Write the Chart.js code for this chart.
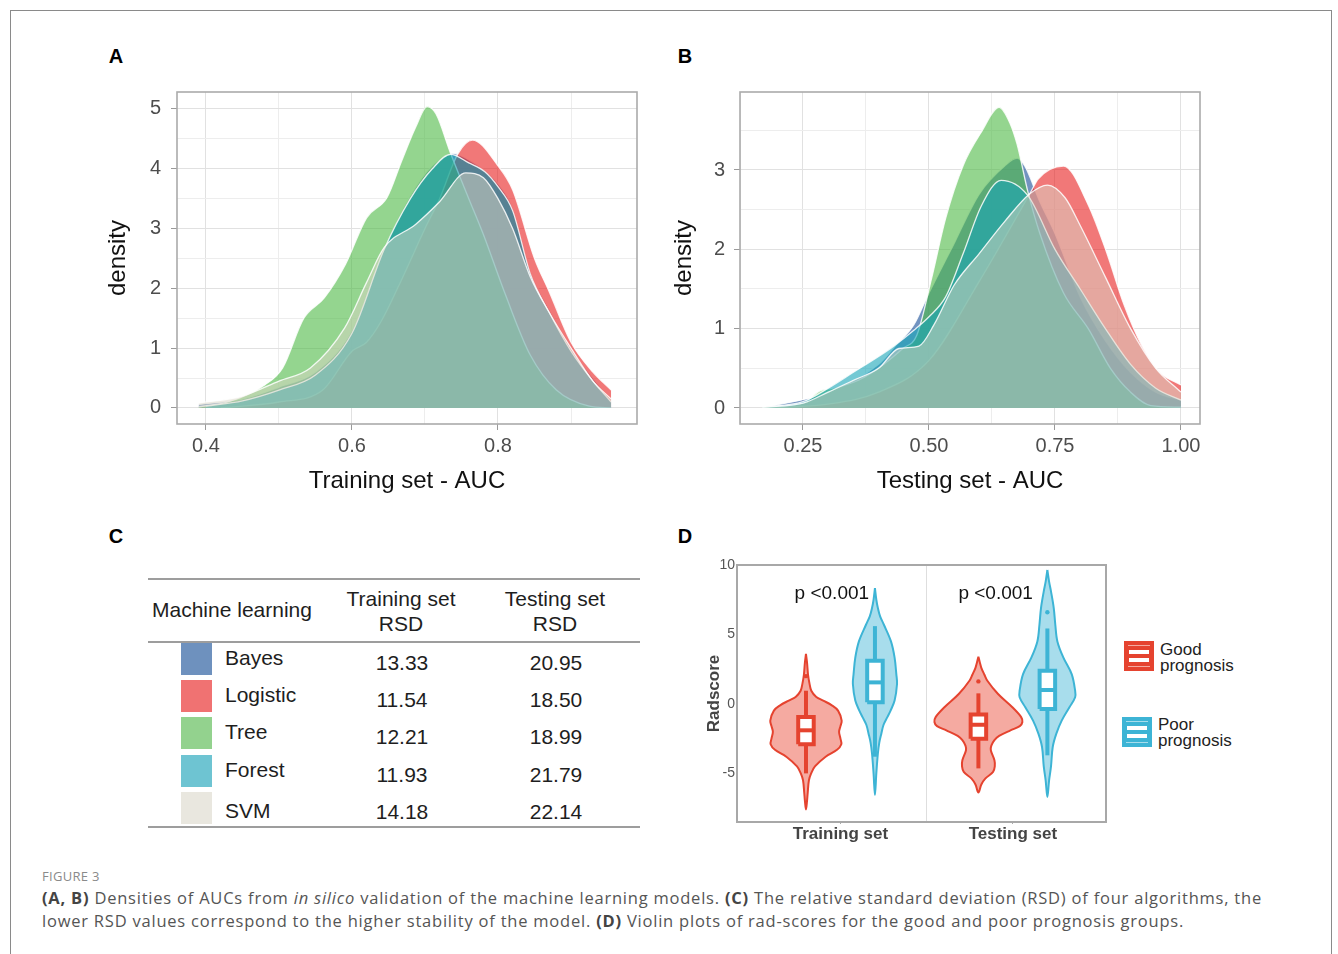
<!DOCTYPE html>
<html>
<head>
<meta charset="utf-8">
<title>Figure 3</title>
<script src="https://cdn.jsdelivr.net/npm/chart.js@4.4.1/dist/chart.umd.min.js"></script>
<style>
  html, body { margin:0; padding:0; background:#ffffff; }
  body { position:relative; width:1338px; height:954px; overflow:hidden; font-family:"Liberation Sans", Arial, sans-serif; color:#222; }
  .frame { position:absolute; left:10px; top:10px; width:1322px; height:1000px; border:1.5px solid #8a8a8a; box-sizing:border-box; }
  .plabel { position:absolute; font-weight:bold; font-size:20px; color:#000; transform:translate(-50%,-50%); line-height:1; }
  canvas { position:absolute; }
  .rule { position:absolute; left:148px; width:492px; height:2px; background:#9d9d9d; }
  .t { position:absolute; font-size:21px; color:#1e1e1e; white-space:nowrap; line-height:1; }
  .tc { transform:translate(-50%,-50%); }
  .tl { transform:translateY(-50%); }
  .sw { position:absolute; width:31px; height:32px; }
  .icon { position:absolute; width:30px; height:30px; }
  .icon .bar { position:absolute; left:5px; width:20px; height:4px; background:#fff; }
  .icon .thin { position:absolute; left:4px; width:22px; height:1px; background:rgba(255,255,255,0.55); }
  .legtext { position:absolute; font-size:17px; color:#222; line-height:16px; white-space:nowrap; }
  .figlabel { position:absolute; left:42px; top:867px; font-family:"Open Sans", Lato, sans-serif; font-size:13px; letter-spacing:0.3px; color:#8a8a8a; }
  .capline { position:absolute; left:42px; font-family:"Open Sans", Lato, sans-serif; font-size:16.5px; line-height:23px; color:#555; white-space:nowrap; }
  .capline b { color:#444; }
</style>
</head>
<body>
<div class="frame"></div>
<div class="plabel" style="left:116px;top:56px;">A</div>
<div class="plabel" style="left:685px;top:56px;">B</div>
<div class="plabel" style="left:116px;top:536px;">C</div>
<div class="plabel" style="left:685px;top:536px;">D</div>

<canvas id="chartA" width="550" height="420" style="left:100px;top:80px;"></canvas>
<canvas id="chartB" width="560" height="420" style="left:660px;top:80px;"></canvas>
<canvas id="chartD" width="420" height="305" style="left:690px;top:545px;"></canvas>

<div id="tableC"></div>
<div id="legendD"></div>

<div class="figlabel">FIGURE 3</div>
<div class="capline" id="cap1" style="top:886px"><b>(A, B)</b> Densities of AUCs from <i>in silico</i> validation of the machine learning models. <b>(C)</b> The relative standard deviation (RSD) of four algorithms, the</div>
<div class="capline" id="cap2" style="top:909px">lower RSD values correspond to the higher stability of the model. <b>(D)</b> Violin plots of rad-scores for the good and poor prognosis groups.</div>

<script>
// ================= DATA =================
const modelNames = ['Bayes', 'Logistic', 'Tree', 'Forest', 'SVM'];
const trainingRSD = ['13.33', '11.54', '12.21', '11.93', '14.18'];
const testingRSD  = ['20.95', '18.50', '18.99', '21.79', '22.14'];

// Panel A: density of training-set AUC
const aBayesX    = [0.39, 0.45, 0.5, 0.55, 0.6, 0.644, 0.68, 0.71, 0.738, 0.76, 0.782, 0.8, 0.82, 0.844, 0.87, 0.9, 0.93, 0.955];
const aBayesY    = [0.06, 0.15, 0.35, 0.6, 1.3, 2.68, 3.55, 4.05, 4.26, 4.15, 3.97, 3.75, 3.35, 2.3, 1.65, 1.0, 0.5, 0.12];
const aLogisticX = [0.42, 0.5, 0.56, 0.6, 0.62, 0.64, 0.67, 0.7, 0.72, 0.745, 0.765, 0.8, 0.82, 0.85, 0.87, 0.9, 0.93, 0.955];
const aLogisticY = [0.0, 0.1, 0.3, 0.95, 1.1, 1.45, 2.2, 3.0, 3.5, 4.25, 4.48, 4.05, 3.65, 2.5, 1.95, 1.1, 0.6, 0.3];
const aTreeX     = [0.39, 0.43, 0.481, 0.505, 0.534, 0.562, 0.591, 0.62, 0.648, 0.668, 0.687, 0.703, 0.715, 0.735, 0.76, 0.78, 0.81, 0.844, 0.88, 0.925, 0.955];
const aTreeY     = [0.02, 0.1, 0.39, 0.67, 1.5, 1.84, 2.4, 3.18, 3.52, 4.13, 4.69, 5.04, 4.92, 4.26, 3.5, 2.9, 1.9, 0.89, 0.3, 0.03, 0.0];
const aForestX   = [0.4, 0.45, 0.5, 0.55, 0.6, 0.644, 0.68, 0.71, 0.735, 0.76, 0.782, 0.8, 0.82, 0.844, 0.87, 0.9, 0.93, 0.955];
const aForestY   = [0.03, 0.12, 0.3, 0.55, 1.25, 2.65, 3.5, 4.0, 4.24, 4.1, 3.95, 3.7, 3.3, 2.25, 1.6, 0.95, 0.45, 0.1];
const aSvmX      = [0.39, 0.45, 0.5, 0.543, 0.59, 0.62, 0.644, 0.687, 0.72, 0.756, 0.78, 0.8, 0.82, 0.844, 0.87, 0.9, 0.93, 0.955];
const aSvmY      = [0.08, 0.2, 0.45, 0.67, 1.34, 2.1, 2.68, 3.07, 3.45, 3.93, 3.85, 3.5, 3.0, 2.2, 1.6, 1.0, 0.45, 0.15];
const aMajorX = [0.4, 0.6, 0.8];
const aMinorX = [0.5, 0.7, 0.9];
const aMajorY = [0, 1, 2, 3, 4, 5];
const aMinorY = [0.5, 1.5, 2.5, 3.5, 4.5];

// Panel B: density of testing-set AUC
const bBayesX    = [0.17, 0.3, 0.4, 0.434, 0.47, 0.5, 0.544, 0.6, 0.65, 0.675, 0.69, 0.72, 0.75, 0.8, 0.85, 0.9, 0.95, 1.0];
const bBayesY    = [0.0, 0.2, 0.55, 0.79, 1.05, 1.45, 2.0, 2.7, 3.05, 3.15, 3.05, 2.6, 2.2, 1.4, 0.85, 0.45, 0.2, 0.1];
const bLogisticX = [0.17, 0.3, 0.4, 0.5, 0.6, 0.7, 0.717, 0.767, 0.816, 0.852, 0.887, 0.922, 0.958, 1.0];
const bLogisticY = [0.0, 0.05, 0.2, 0.6, 1.6, 2.7, 2.89, 3.05, 2.56, 1.97, 1.3, 0.79, 0.45, 0.29];
const bTreeX     = [0.17, 0.25, 0.285, 0.31, 0.36, 0.41, 0.448, 0.476, 0.505, 0.533, 0.568, 0.604, 0.639, 0.66, 0.675, 0.696, 0.72, 0.767, 0.816, 0.86, 0.9, 0.94, 1.0];
const bTreeY     = [0.01, 0.06, 0.22, 0.25, 0.35, 0.55, 0.75, 0.92, 1.63, 2.39, 3.06, 3.48, 3.79, 3.6, 3.32, 2.73, 2.2, 1.45, 1.0, 0.5, 0.2, 0.03, 0.01];
const bForestX   = [0.17, 0.25, 0.3, 0.35, 0.4, 0.43, 0.47, 0.5, 0.533, 0.568, 0.604, 0.643, 0.696, 0.75, 0.8, 0.85, 0.9, 0.95, 1.0];
const bForestY   = [0.01, 0.08, 0.25, 0.45, 0.65, 0.78, 0.98, 1.15, 1.4, 1.95, 2.55, 2.87, 2.68, 2.0, 1.5, 1.0, 0.55, 0.25, 0.1];
const bSvmX      = [0.17, 0.25, 0.3, 0.35, 0.4, 0.44, 0.48, 0.51, 0.55, 0.6, 0.65, 0.7, 0.735, 0.77, 0.8, 0.85, 0.9, 0.95, 1.0];
const bSvmY      = [0.01, 0.06, 0.2, 0.35, 0.5, 0.75, 0.78, 1.05, 1.55, 1.95, 2.35, 2.7, 2.81, 2.65, 2.3, 1.65, 1.0, 0.5, 0.2];
const bMajorX = [0.25, 0.5, 0.75, 1.0];
const bMinorX = [0.125, 0.375, 0.625, 0.875];
const bMajorY = [0, 1, 2, 3];
const bMinorY = [0.5, 1.5, 2.5, 3.5];

// Panel D: rad-score violins
const dCategories = ['Training set', 'Testing set'];
const dGroups = ['Good prognosis', 'Poor prognosis'];
const pLabels = ['p <0.001', 'p <0.001'];
const dYTicks = [-5, 0, 5, 10];
// violin outlines: radscore values and half-widths (in category units)
const vTrainGoodY = [3.6, 3.0, 2.1, 1.5, 0.95, 0.5, 0.24, -0.1, -0.48, -1.2, -1.6, -2.0, -2.5, -2.9, -3.3, -3.8, -4.5, -5.0, -5.5, -6.4, -7.0, -7.6];
const vTrainGoodW = [0, 0.006, 0.012, 0.02, 0.031, 0.06, 0.10, 0.15, 0.186, 0.207, 0.20, 0.192, 0.2, 0.205, 0.18, 0.114, 0.052, 0.03, 0.017, 0.01, 0.006, 0];
const vTrainPoorY = [8.33, 7.5, 6.9, 6.3, 5.7, 4.5, 3.33, 2.14, 1.43, 0.24, -0.5, -0.95, -1.5, -2.14, -2.8, -3.57, -5.0, -6.55];
const vTrainPoorW = [0, 0.008, 0.017, 0.03, 0.052, 0.093, 0.114, 0.124, 0.128, 0.114, 0.09, 0.072, 0.05, 0.037, 0.025, 0.017, 0.008, 0];
const vTestGoodY  = [3.4, 3.0, 2.6, 2.1, 1.67, 0.71, -0.24, -0.95, -1.3, -1.6, -1.9, -2.3, -2.6, -3.0, -3.33, -4.05, -4.5, -4.9, -5.36, -5.8, -6.38];
const vTestGoodW  = [0, 0.008, 0.017, 0.035, 0.052, 0.114, 0.197, 0.248, 0.255, 0.24, 0.186, 0.12, 0.093, 0.075, 0.072, 0.093, 0.095, 0.085, 0.041, 0.017, 0];
const vTestPoorY  = [9.64, 8.8, 8.1, 6.9, 5.7, 4.5, 3.33, 2.14, 0.95, 0.48, -0.24, -1.2, -2.14, -3.1, -4.5, -5.5, -6.7];
const vTestPoorW  = [0, 0.01, 0.021, 0.037, 0.046, 0.058, 0.093, 0.141, 0.161, 0.161, 0.128, 0.083, 0.052, 0.031, 0.021, 0.01, 0];
// box summaries: [lower whisker, Q1, median, Q3, upper whisker]
const boxTrainGood = [-5.0, -2.9, -1.9, -0.95, 0.95];
const boxTrainPoor = [-3.8, 0.12, 1.55, 3.1, 5.6];
const boxTestGood  = [-4.64, -2.5, -1.5, -0.76, 0.76];
const boxTestPoor  = [-3.7, -0.36, 1.0, 2.38, 5.43];
const outTrainGood = [2.0];
const outTrainPoor = [];
const outTestGood  = [1.62];
const outTestPoor  = [6.6];

// ================= STYLE =================
const FONT = '"Liberation Sans", Arial, sans-serif';
Chart.defaults.font.family = FONT;
Chart.defaults.animation = false;

const modelFill = ['rgba(20,75,150,0.6)', 'rgba(232,30,30,0.6)', 'rgba(76,185,68,0.6)', 'rgba(23,165,184,0.6)', 'rgba(217,213,198,0.5)'];
const modelSwatch = ['#6E91BE', '#F07272', '#93D28E', '#6EC4D2', '#E9E7DF'];
const groupStroke = ['#E5432F', '#3DB4D5'];
const groupFill = ['rgba(232,67,46,0.45)', 'rgba(61,180,213,0.45)'];

const panelBorder = {
  id: 'panelBorder',
  afterDraw(chart, args, opts) {
    const {ctx, chartArea: a} = chart;
    ctx.save();
    ctx.strokeStyle = opts.color || '#aaa';
    ctx.lineWidth = opts.width || 1.5;
    ctx.strokeRect(a.left, a.top, a.right - a.left, a.bottom - a.top);
    ctx.restore();
  }
};

function makeDensity(id, series, opt) {
  const datasets = series.map((s, i) => ({
    label: modelNames[i],
    data: s.x.map((x, j) => ({x: x, y: s.y[j]})),
    backgroundColor: modelFill[i],
    borderColor: 'rgba(255,255,255,0.85)',
    borderWidth: 1.3,
    fill: 'origin',
    pointRadius: 0,
    cubicInterpolationMode: 'monotone',
    order: series.length - i
  }));
  const allX = opt.majorX.concat(opt.minorX).sort((a, b) => a - b);
  const allY = opt.majorY.concat(opt.minorY).sort((a, b) => a - b);
  const isMajX = c => c.tick && opt.majorX.includes(c.tick.value);
  const isMajY = c => c.tick && opt.majorY.includes(c.tick.value);
  return new Chart(document.getElementById(id), {
    type: 'line',
    data: {datasets},
    options: {
      responsive: false, animation: false, events: [],
      layout: {padding: opt.pad},
      plugins: {legend: {display: false}, tooltip: {enabled: false}, panelBorder: {color: '#ababab', width: 1.6}},
      scales: {
        x: {
          type: 'linear', min: opt.xMin, max: opt.xMax,
          afterBuildTicks: s => { s.ticks = allX.map(v => ({value: v})); },
          afterFit: s => { s.height = opt.xAxisH; s.paddingLeft = 0; s.paddingRight = 0; },
          ticks: {autoSkip: false, maxRotation: 0, padding: 4, color: '#4d4d4d', font: {size: 20},
                  callback: v => opt.majorX.includes(v) ? opt.fmtX(v) : ''},
          grid: {color: c => isMajX(c) ? '#e1e1e1' : '#ededed', lineWidth: 1, tickLength: 6,
                 tickColor: c => isMajX(c) ? '#9a9a9a' : 'rgba(0,0,0,0)'},
          border: {display: false},
          title: {display: true, text: opt.xTitle, color: '#111', font: {size: 24}, padding: {top: 0, bottom: 4}}
        },
        y: {
          type: 'linear', min: opt.yMin, max: opt.yMax,
          afterBuildTicks: s => { s.ticks = allY.map(v => ({value: v})); },
          afterFit: s => { s.width = opt.yAxisW; s.paddingTop = 0; s.paddingBottom = 0; },
          ticks: {autoSkip: false, padding: opt.yTickPad, color: '#4d4d4d', font: {size: 20},
                  callback: v => opt.majorY.includes(v) ? String(v) : ''},
          grid: {color: c => isMajY(c) ? '#e1e1e1' : '#ededed', lineWidth: 1, tickLength: 6,
                 tickColor: c => isMajY(c) ? '#9a9a9a' : 'rgba(0,0,0,0)'},
          border: {display: false},
          title: {display: true, text: 'density', color: '#111', font: {size: 24}, padding: {top: opt.yTitlePad, bottom: 0}}
        }
      }
    },
    plugins: [panelBorder]
  });
}

makeDensity('chartA', [
  {x: aBayesX, y: aBayesY}, {x: aLogisticX, y: aLogisticY}, {x: aTreeX, y: aTreeY},
  {x: aForestX, y: aForestY}, {x: aSvmX, y: aSvmY}
], {
  xMin: 0.3603, xMax: 0.9904, yMin: -0.268, yMax: 5.284,
  majorX: aMajorX, minorX: aMinorX, majorY: aMajorY, minorY: aMinorY,
  fmtX: v => v.toFixed(1), xTitle: 'Training set - AUC',
  pad: {top: 12, right: 13, left: 0, bottom: 0}, xAxisH: 76, yAxisW: 77, yTickPad: 10, yTitlePad: 4
});

makeDensity('chartB', [
  {x: bBayesX, y: bBayesY}, {x: bLogisticX, y: bLogisticY}, {x: bTreeX, y: bTreeY},
  {x: bForestX, y: bForestY}, {x: bSvmX, y: bSvmY}
], {
  xMin: 0.125, xMax: 1.0377, yMin: -0.2017, yMax: 3.983,
  majorX: bMajorX, minorX: bMinorX, majorY: bMajorY, minorY: bMinorY,
  fmtX: v => v.toFixed(2), xTitle: 'Testing set - AUC',
  pad: {top: 12, right: 20, left: 0, bottom: 0}, xAxisH: 76, yAxisW: 80, yTickPad: 9, yTitlePad: 10
});

// ---------- Panel D ----------
const violins = [
  {cat: 0, grp: 0, ys: vTrainGoodY, ws: vTrainGoodW, box: boxTrainGood, out: outTrainGood},
  {cat: 0, grp: 1, ys: vTrainPoorY, ws: vTrainPoorW, box: boxTrainPoor, out: outTrainPoor},
  {cat: 1, grp: 0, ys: vTestGoodY,  ws: vTestGoodW,  box: boxTestGood,  out: outTestGood},
  {cat: 1, grp: 1, ys: vTestPoorY,  ws: vTestPoorW,  box: boxTestPoor,  out: outTestPoor}
];
const dodge = 0.2, boxHalf = 0.045;
const dDatasets = [];
violins.forEach(v => {
  const c = v.cat + 1 + (v.grp === 0 ? -dodge : dodge);
  const col = groupStroke[v.grp];
  const right = v.ys.map((y, i) => ({x: c + v.ws[i], y: y}));
  const left = v.ys.map((y, i) => ({x: c - v.ws[i], y: y})).reverse().slice(1);
  dDatasets.push({
    label: dCategories[v.cat] + ' ' + dGroups[v.grp],
    data: right.concat(left), fill: 'shape', backgroundColor: groupFill[v.grp],
    borderColor: col, borderWidth: 2, tension: 0.35, pointRadius: 0, order: 4
  });
  const [lo, q1, md, q3, hi] = v.box;
  dDatasets.push({
    data: [{x: c - boxHalf, y: q1}, {x: c + boxHalf, y: q1}, {x: c + boxHalf, y: q3}, {x: c - boxHalf, y: q3}, {x: c - boxHalf, y: q1}],
    fill: 'shape', backgroundColor: '#ffffff', borderColor: col, borderWidth: 4,
    borderJoinStyle: 'miter', tension: 0, pointRadius: 0, order: 2
  });
  dDatasets.push({data: [{x: c, y: q3}, {x: c, y: hi}], borderColor: col, borderWidth: 4, pointRadius: 0, fill: false, order: 3});
  dDatasets.push({data: [{x: c, y: lo}, {x: c, y: q1}], borderColor: col, borderWidth: 4, pointRadius: 0, fill: false, order: 3});
  dDatasets.push({data: [{x: c - boxHalf, y: md}, {x: c + boxHalf, y: md}], borderColor: col, borderWidth: 4, pointRadius: 0, fill: false, order: 1});
  if (v.out.length) {
    dDatasets.push({data: v.out.map(y => ({x: c, y: y})), showLine: false, pointRadius: 2.2,
      pointBackgroundColor: col, pointBorderWidth: 0, fill: false, order: 0});
  }
});

// annotation placement for the p-value labels (x offset from category centre, radscore height)
const pLabelShift = [-0.05, -0.1];
const pLabelY = 7.9;
const pLabelPlugin = {
  id: 'pLabels',
  afterDatasetsDraw(chart) {
    const {ctx, scales: {x, y}} = chart;
    ctx.save();
    ctx.font = '19px ' + FONT;
    ctx.fillStyle = '#111';
    ctx.textAlign = 'center';
    ctx.textBaseline = 'middle';
    pLabels.forEach((t, i) => ctx.fillText(t, x.getPixelForValue(i + 1 + pLabelShift[i]), y.getPixelForValue(pLabelY)));
    ctx.restore();
  }
};

const dXTicks = [1, 1.5, 2];
new Chart(document.getElementById('chartD'), {
  type: 'line',
  data: {datasets: dDatasets},
  options: {
    responsive: false, animation: false, events: [],
    layout: {padding: {top: 20, right: 4, left: 0, bottom: 0}},
    plugins: {legend: {display: false}, tooltip: {enabled: false}, panelBorder: {color: '#a8a8a8', width: 2}},
    scales: {
      x: {
        type: 'linear', min: 0.4, max: 2.54,
        afterBuildTicks: s => { s.ticks = dXTicks.map(v => ({value: v})); },
        afterFit: s => { s.height = 28; s.paddingLeft = 0; s.paddingRight = 0; },
        ticks: {autoSkip: false, maxRotation: 0, padding: 0, color: '#444', font: {size: 17, weight: 'bold'},
                callback: v => Number.isInteger(v) ? dCategories[v - 1] : ''},
        grid: {color: c => (c.tick && !Number.isInteger(c.tick.value)) ? '#dedede' : 'rgba(0,0,0,0)', lineWidth: 1,
               tickLength: 2, tickColor: c => (c.tick && Number.isInteger(c.tick.value)) ? '#aaa' : 'rgba(0,0,0,0)'},
        border: {display: false}
      },
      y: {
        type: 'linear', min: -8.5, max: 10,
        afterBuildTicks: s => { s.ticks = dYTicks.map(v => ({value: v})); },
        afterFit: s => { s.width = 47; s.paddingTop = 0; s.paddingBottom = 0; },
        ticks: {autoSkip: false, padding: 2, color: '#555', font: {size: 14}},
        grid: {display: true, drawOnChartArea: false, drawTicks: false},
        border: {display: false},
        title: {display: true, text: 'Radscore', color: '#444', font: {size: 17, weight: 'bold'}, padding: {top: 14, bottom: 0}}
      }
    }
  },
  plugins: [panelBorder, pLabelPlugin]
});

// ---------- Panel C table ----------
(function buildTable() {
  const root = document.getElementById('tableC');
  let h = '';
  h += '<div class="rule" style="top:578px"></div><div class="rule" style="top:641px"></div><div class="rule" style="top:826px"></div>';
  h += '<div class="t tl" style="left:152px;top:609px">Machine learning</div>';
  h += '<div class="t tc" style="left:401px;top:598px">Training set</div><div class="t tc" style="left:401px;top:623px">RSD</div>';
  h += '<div class="t tc" style="left:555px;top:598px">Testing set</div><div class="t tc" style="left:555px;top:623px">RSD</div>';
  modelNames.forEach((m, i) => {
    const rowTop = 643 + i * 37.2;
    h += '<div class="sw" style="left:181px;top:' + rowTop + 'px;background:' + modelSwatch[i] + '"></div>';
    h += '<div class="t tl" style="left:225px;top:' + (rowTop + 14 + (i === 4 ? 4 : 0)) + 'px">' + m + '</div>';
    h += '<div class="t tc" style="left:402px;top:' + (rowTop + 19) + 'px">' + trainingRSD[i] + '</div>';
    h += '<div class="t tc" style="left:556px;top:' + (rowTop + 19) + 'px">' + testingRSD[i] + '</div>';
  });
  root.innerHTML = h;
})();

// ---------- Panel D legend ----------
(function buildLegend() {
  const root = document.getElementById('legendD');
  const pos = [{ix: 1124, iy: 641, tx: 1160, ty: 642}, {ix: 1122, iy: 717, tx: 1158, ty: 717}];
  let h = '';
  dGroups.forEach((g, i) => {
    const p = pos[i];
    const words = g.split(' ');
    h += '<div class="icon" style="left:' + p.ix + 'px;top:' + p.iy + 'px;background:' + groupStroke[i] + '">' +
         '<div class="thin" style="top:4px"></div><div class="bar" style="top:9px"></div>' +
         '<div class="bar" style="top:17px"></div><div class="thin" style="top:25px"></div></div>';
    h += '<div class="legtext" style="left:' + p.tx + 'px;top:' + p.ty + 'px">' + words[0] + '<br>' + words[1] + '</div>';
  });
  root.innerHTML = h;
})();

// ---------- caption: fit first line to the reference width ----------
(function fitCaption() {
  const l1 = document.getElementById('cap1'), l2 = document.getElementById('cap2');
  const target = 1220;
  const w = l1.getBoundingClientRect().width;
  const n = l1.textContent.length;
  const ls = (target - w) / n;
  l1.style.letterSpacing = ls + 'px';
  l2.style.letterSpacing = ls + 'px';
})();
</script>
</body>
</html>
